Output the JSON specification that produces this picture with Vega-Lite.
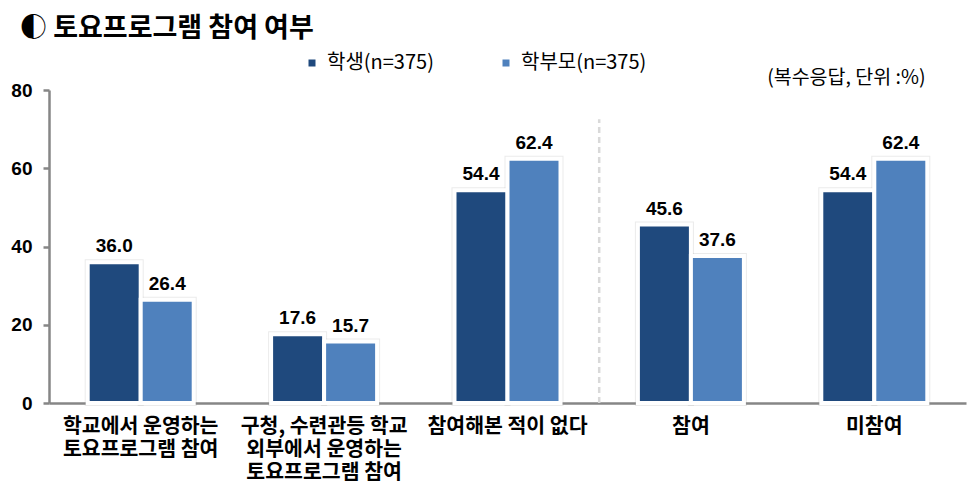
{
  "$schema": "https://vega.github.io/schema/vega-lite/v6.json",
  "width": 917,
  "height": 313,
  "autosize": {"type": "none"},
  "padding": {"left": 49, "top": 90, "right": 2, "bottom": 85},
  "background": "white",
  "title": {
    "text": "◐ 토요프로그램 참여 여부",
    "anchor": "start",
    "frame": "group",
    "dx": -29,
    "dy": 16,
    "offset": 5,
    "baseline": "alphabetic",
    "font": "Noto Sans CJK KR",
    "fontSize": 27,
    "fontWeight": "bold",
    "color": "black"
  },
  "datasets": {
    "bars": [
      {"item": "학교에서 운영하는|토요프로그램 참여", "group": "학생(n=375)", "value": 36.0},
      {"item": "학교에서 운영하는|토요프로그램 참여", "group": "학부모(n=375)", "value": 26.4},
      {"item": "구청, 수련관등 학교|외부에서 운영하는|토요프로그램 참여", "group": "학생(n=375)", "value": 17.6},
      {"item": "구청, 수련관등 학교|외부에서 운영하는|토요프로그램 참여", "group": "학부모(n=375)", "value": 15.7},
      {"item": "참여해본 적이 없다", "group": "학생(n=375)", "value": 54.4},
      {"item": "참여해본 적이 없다", "group": "학부모(n=375)", "value": 62.4},
      {"item": "참여", "group": "학생(n=375)", "value": 45.6},
      {"item": "참여", "group": "학부모(n=375)", "value": 37.6},
      {"item": "미참여", "group": "학생(n=375)", "value": 54.4},
      {"item": "미참여", "group": "학부모(n=375)", "value": 62.4}
    ],
    "divider": [
      {"item": "참여", "y0": 0, "y1": 72.5}
    ]
  },
  "layer": [
    {
      "data": {"name": "bars"},
      "mark": {"type": "bar", "stroke": "#999999", "strokeOpacity": 0.2, "strokeWidth": 6, "fillOpacity": 0},
      "encoding": {
        "x": {"field": "item", "type": "nominal",
              "sort": ["학교에서 운영하는|토요프로그램 참여", "구청, 수련관등 학교|외부에서 운영하는|토요프로그램 참여", "참여해본 적이 없다", "참여", "미참여"],
              "scale": {"type": "band", "paddingInner": 0, "paddingOuter": 0},
              "axis": {
                "title": null,
                "labelAngle": 0,
                "labelAlign": "center",
                "labelBaseline": "top",
                "bandPosition": 0.5,
                "labelExpr": "split(datum.value, '|')",
                "labelFont": "Noto Sans CJK KR",
                "labelFontSize": 20.5,
                "labelFontWeight": "bold",
                "labelColor": "black",
                "labelLineHeight": 23,
                "labelPadding": 13,
                "labelLimit": 300,
                "ticks": false,
                "domainColor": "#868686",
                "domainWidth": 2.5,
                "grid": false
              }},
        "xOffset": {"field": "group", "type": "nominal", "sort": ["학생(n=375)", "학부모(n=375)"],
                    "scale": {"type": "band", "paddingInner": 0, "paddingOuter": 0.73}},
        "y": {"field": "value", "type": "quantitative",
              "scale": {"domain": [0, 80]},
              "axis": {
                "title": "(복수응답, 단위 :%)",
                "titleAngle": 0,
                "titleAlign": "right",
                "titleBaseline": "middle",
                "titleX": 876,
                "titleY": -13,
                "titleFont": "Noto Sans CJK KR",
                "titleFontSize": 19.5,
                "titleFontWeight": "normal",
                "titleColor": "black",
                "values": [0, 20, 40, 60, 80],
                "labelFont": "Liberation Sans",
                "labelFontSize": 19,
                "labelFontWeight": "bold",
                "labelColor": "black",
                "labelPadding": 11,
                "tickSize": 6,
                "tickColor": "#868686",
                "tickWidth": 2.5,
                "domainColor": "#868686",
                "domainWidth": 2.5,
                "grid": false
              }}
      }
    },
    {
      "data": {"name": "bars"},
      "mark": {"type": "bar", "stroke": "white", "strokeWidth": 4},
      "encoding": {
        "x": {"field": "item", "type": "nominal",
              "sort": ["학교에서 운영하는|토요프로그램 참여", "구청, 수련관등 학교|외부에서 운영하는|토요프로그램 참여", "참여해본 적이 없다", "참여", "미참여"]},
        "xOffset": {"field": "group", "type": "nominal", "sort": ["학생(n=375)", "학부모(n=375)"]},
        "y": {"field": "value", "type": "quantitative"},
        "color": {
          "field": "group", "type": "nominal",
          "scale": {"domain": ["학생(n=375)", "학부모(n=375)"], "range": ["#1F497D", "#4F81BD"]},
          "legend": {
            "title": null,
            "orient": "none",
            "legendX": 253,
            "legendY": -37,
            "direction": "horizontal",
            "padding": 0,
            "symbolType": "square",
            "symbolSize": 49,
            "symbolStrokeWidth": 0,
            "labelFont": "Noto Sans CJK KR",
            "labelFontSize": 20,
            "labelColor": "black",
            "labelOffset": 5,
            "columnPadding": 62
          }
        }
      }
    },
    {
      "data": {"name": "bars"},
      "mark": {"type": "text", "baseline": "alphabetic", "dy": -10, "font": "Liberation Sans", "fontSize": 19, "fontWeight": "bold", "color": "black"},
      "encoding": {
        "x": {"field": "item", "type": "nominal",
              "sort": ["학교에서 운영하는|토요프로그램 참여", "구청, 수련관등 학교|외부에서 운영하는|토요프로그램 참여", "참여해본 적이 없다", "참여", "미참여"]},
        "xOffset": {"field": "group", "type": "nominal", "sort": ["학생(n=375)", "학부모(n=375)"]},
        "y": {"field": "value", "type": "quantitative"},
        "text": {"field": "value", "type": "quantitative", "format": ".1f"}
      }
    },
    {
      "data": {"name": "divider"},
      "mark": {"type": "rule", "color": "#d9d9d9", "strokeWidth": 2.5, "strokeDash": [6, 4]},
      "encoding": {
        "x": {"field": "item", "type": "nominal", "bandPosition": 0,
              "sort": ["학교에서 운영하는|토요프로그램 참여", "구청, 수련관등 학교|외부에서 운영하는|토요프로그램 참여", "참여해본 적이 없다", "참여", "미참여"]},
        "y": {"field": "y0", "type": "quantitative"},
        "y2": {"field": "y1"}
      }
    }
  ],
  "config": {
    "view": {"stroke": null}
  }
}
